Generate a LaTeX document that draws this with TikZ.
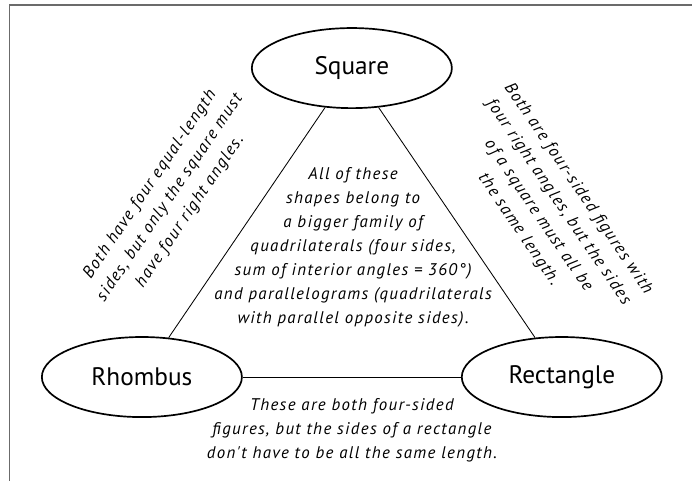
\documentclass[tikz,border=0pt]{standalone}
\usepackage{fontspec}
\newfontfamily\labelfont{PT Sans}
\newfontfamily\handfont{PT Sans}[LetterSpace=8]
\usetikzlibrary{shapes.geometric}

\begin{document}
\begin{tikzpicture}[
	oval/.style={ellipse, draw, line width=1.6pt, minimum width=6.67cm, minimum height=2.67cm,
		inner sep=0pt, font=\labelfont\fontsize{24}{28}\selectfont},
	handnote/.style={align=center, inner sep=0pt, font=\handfont\itshape\fontsize{16}{22.8}\selectfont}]
			\useasboundingbox (0,0) rectangle (23.07,-16.03);
			\draw[black!58, line width=1.7pt] (0.32,-16.03) -- (0.32,-0.17) -- (23.07,-0.17);
			\node[oval] (Sq) at (11.73,-2.27) {Square};
			\node[oval] (Rh) at (4.73,-12.57) {Rhombus};
			\node[oval] (Re) at (18.73,-12.57) {Rectangle};
			\draw[line width=0.8pt] (Sq) -- (Rh);
			\draw[line width=0.8pt] (Sq) -- (Re);
			\draw[line width=0.8pt] (Rh) -- (Re);
			\node[handnote, rotate=55.8] (left) at (5.67,-6.6)
				{Both have four equal-length\\sides, but only the square must\\have four right angles.};
			\node[handnote, rotate=-55.8] (right) at (18.28,-6.97)
				{Both are four-sided figures with\\four right angles, but the sides\\of a square must all be\\the same length.};
			\node[handnote] (mid) at (11.77,-8.25)
				{All of these\\shapes belong to\\a bigger family of\\quadrilaterals (four sides,\\sum of interior angles = 360°)\\and parallelograms (quadrilaterals\\with parallel opposite sides).};
			\node[handnote] (low) at (11.73,-14.33)
				{These are both four-sided\\figures, but the sides of a rectangle\\don't have to be all the same length.};
		\end{tikzpicture}
\end{document}
